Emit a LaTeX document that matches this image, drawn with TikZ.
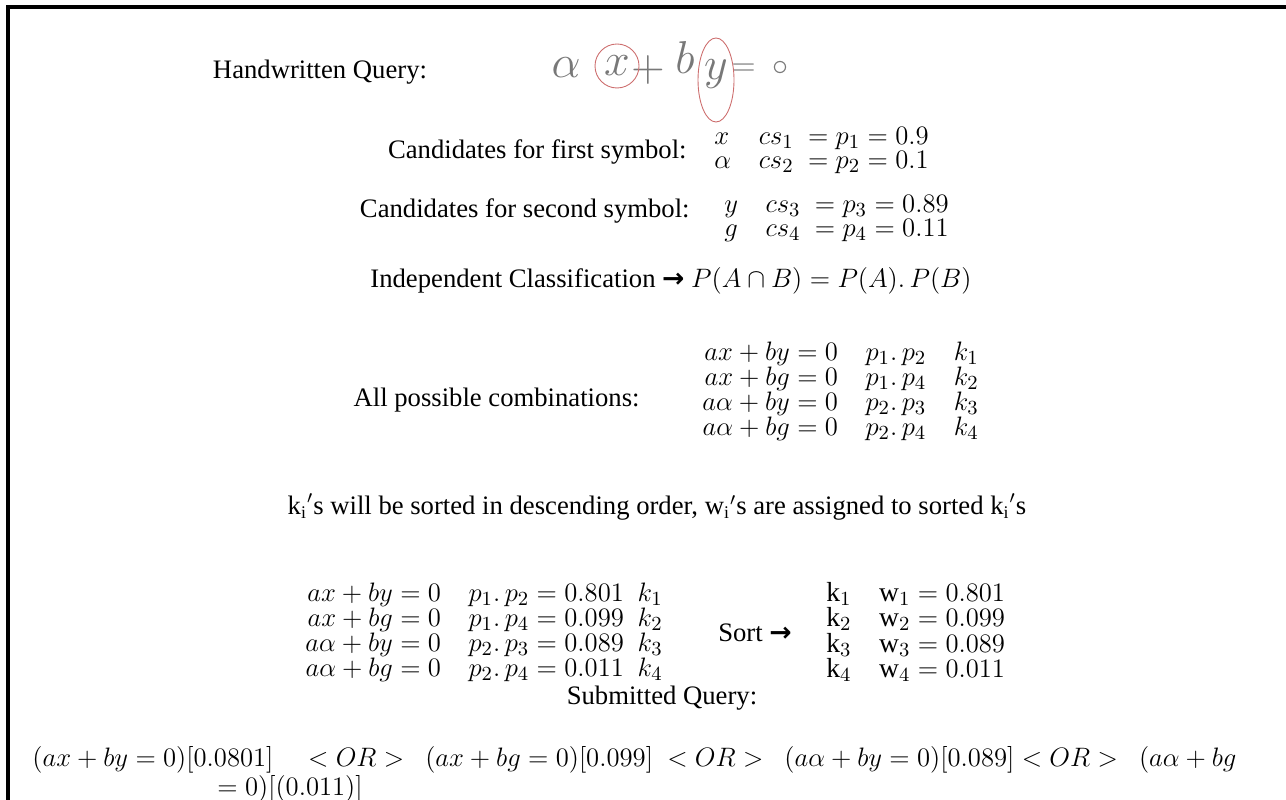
\documentclass[tikz,border=0pt]{standalone}
\usepackage{amsmath}
\usepackage{fontspec}
\setmainfont{Liberation Serif}
\newfontfamily\symfont{DejaVu Sans}
\usetikzlibrary{positioning}
\definecolor{ink}{RGB}{120,120,120}
\definecolor{mark}{RGB}{205,110,110}
\newcommand{\boldarrow}{{\symfont\bfseries →}}

\begin{document}
\begin{tikzpicture}[x=0.45pt,y=-0.45pt,
  lbl/.style={inner sep=0pt, font=\fontsize{12}{14}\selectfont},
  blk/.style={inner sep=0pt, font=\fontsize{12.4}{9.6}\selectfont},
  pen/.style={inner sep=0pt, text=ink, font=\fontsize{22}{22}\selectfont},
  ring/.style={draw=mark, line width=0.4pt}]
\useasboundingbox (0,0) rectangle (1286,800);
\draw[line width=1.4pt] (8,800) -- (8,7) -- (1286,7);

% handwritten query
\node[lbl] (hq) at (320,72) {Handwritten Query:};
\node[pen] (ha) at (566,68) {$\alpha$};
\node[pen] (hx) at (617,66) {$x$};
\node[pen] (hp) at (648,70) {$+$};
\node[pen] (hb) at (685,58) {$b$};
\node[pen] (hy) at (716,74) {$y$};
\node[pen, font=\fontsize{14}{14}\selectfont] (he) at (760,68) {$=\ \circ$};
\draw[ring] (hx) circle (22);
\draw[ring] (716,80) ellipse (18 and 42);

% candidates
\node[lbl, anchor=east] (c1) at (687,152) {Candidates for first symbol:};
\node[blk, anchor=west] (m1) at (714,151) {\begin{tabular}{@{}l@{\quad}l@{}}
  $x$ & $cs_1\ = p_1 = 0.9$\\
  $\alpha$ & $cs_2\ = p_2 = 0.1$
\end{tabular}};
\node[lbl, anchor=east] (c2) at (690,211) {Candidates for second symbol:};
\node[blk, anchor=west] (m2) at (724,219) {\begin{tabular}{@{}l@{\quad}l@{}}
  $y$ & $cs_3\ = p_3 = 0.89$\\
  $g$ & $cs_4\ = p_4 = 0.11$
\end{tabular}};

\node[lbl, anchor=west] (ind) at (370,281) {Independent Classification \boldarrow{} $P(A\cap B) = P(A).\,P(B)$};

% combinations
\node[lbl, anchor=east] (allc) at (640,400) {All possible combinations:};
\node[blk, anchor=west] (comb) at (702,392) {\begin{tabular}{@{}r@{\quad}l@{\quad}l@{}}
  $ax+by=0$ & $p_1.\,p_2$ & $k_1$\\
  $ax+bg=0$ & $p_1.\,p_4$ & $k_2$\\
  $a\alpha+by=0$ & $p_2.\,p_3$ & $k_3$\\
  $a\alpha+bg=0$ & $p_2.\,p_4$ & $k_4$
\end{tabular}};

\node[lbl] (sortnote) at (657,507) {$\mathrm{k_i}'$s will be sorted in descending order, $\mathrm{w_i}'$s are assigned to sorted $\mathrm{k_i}'$s};

% sorting
\node[blk, anchor=west] (left) at (305,633) {\begin{tabular}{@{}r@{\quad}l@{\enspace}l@{}}
  $ax+by=0$ & $p_1.\,p_2 = 0.801$ & $k_1$\\
  $ax+bg=0$ & $p_1.\,p_4 = 0.099$ & $k_2$\\
  $a\alpha+by=0$ & $p_2.\,p_3 = 0.089$ & $k_3$\\
  $a\alpha+bg=0$ & $p_2.\,p_4 = 0.011$ & $k_4$
\end{tabular}};
\node[lbl] (sort) at (755,633) {Sort \boldarrow};
\node[blk, anchor=west] (right) at (826,633) {\begin{tabular}{@{}l@{\quad}l@{}}
  $\mathrm{k}_1$ & $\mathrm{w}_1 = 0.801$\\
  $\mathrm{k}_2$ & $\mathrm{w}_2 = 0.099$\\
  $\mathrm{k}_3$ & $\mathrm{w}_3 = 0.089$\\
  $\mathrm{k}_4$ & $\mathrm{w}_4 = 0.011$
\end{tabular}};

% submitted query
\node[lbl] (subq) at (662,698) {Submitted Query:};
\node[lbl, anchor=west, font=\fontsize{12.25}{14}\selectfont] (q1) at (32,760) {$(ax+by=0)[0.0801]\quad <OR>\ \ (ax+bg=0)[0.099]\ <OR>\ \ (a\alpha+by=0)[0.089] <OR>\ \ (a\alpha+bg$};
\node[lbl, anchor=west, font=\fontsize{12.25}{14}\selectfont] (q2) at (217,789) {$= 0)[(0.011)]$};
\end{tikzpicture}
\end{document}
